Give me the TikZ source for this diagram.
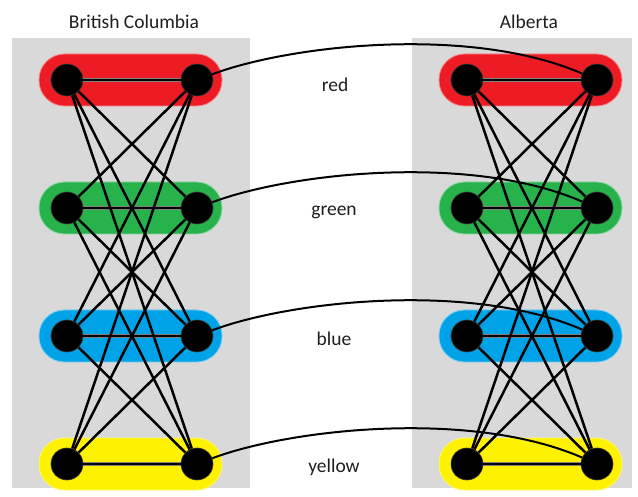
\documentclass[tikz,border=0pt]{standalone}
\usepackage{fontspec}
\setmainfont{Carlito}
\definecolor{panelgray}{RGB}{217,217,217}
\definecolor{pred}{RGB}{237,28,36}
\definecolor{pgreen}{RGB}{40,178,76}
\definecolor{pblue}{RGB}{0,162,232}
\definecolor{pyellow}{RGB}{255,242,0}
\definecolor{inkgray}{RGB}{30,30,30}
\begin{document}
\begin{tikzpicture}[x=1pt,y=-1pt,
  panel/.style={fill=panelgray,draw=none},
  pill/.style={rounded corners=25.5pt,line width=0.8pt},
  vtx/.style={circle,fill=black,draw=gray!45!black,line width=0.6pt,minimum size=32pt,inner sep=0pt},
  edge/.style={line width=2.5pt,black},
  halo/.style={line width=4.6pt,draw=gray},
  link/.style={line width=2pt,black},
  lab/.style={font=\fontsize{19.5}{22}\selectfont,text=inkgray,inner sep=0pt}]
  % canvas
  \useasboundingbox (0,0) rectangle (638,497);
  \fill[white] (0,0) rectangle (638,497);
  % grey panels for the two provinces
  \fill[panel] (12,38) rectangle (250,488);
  \fill[panel] (412,38) rectangle (632,488);
  % titles
  \node[lab] (tBC) at (134,22) {British Columbia};
  \node[lab] (tAB) at (529,22) {Alberta};
  % coloured pills, one per colour and province
  \foreach \dx in {0,400} {
    \foreach \y/\c in {80/pred,208/pgreen,336/pblue,464/pyellow} {
      \draw[pill,fill=\c,draw=\c!55!white] (39+\dx,\y-26) rectangle (222+\dx,\y+26);
    }
  }
  % vertices
  \foreach \p/\dx in {b/0,a/400} {
    \foreach \i/\y in {1/80,2/208,3/336,4/464} {
      \node[vtx] (\p L\i) at (67+\dx,\y) {};
      \node[vtx] (\p R\i) at (197+\dx,\y) {};
    }
  }
  % horizontal edges carry a grey rim
  \foreach \p in {b,a} {
    \foreach \i in {1,...,4} {
      \draw[halo] (\p L\i) -- (\p R\i);
    }
  }
  % complete bipartite edges between the two columns of each province
  \foreach \p in {b,a} {
    \foreach \i in {1,...,4} {
      \foreach \j in {1,...,4} {
        \draw[edge] (\p L\i) -- (\p R\j);
      }
    }
  }
  % links between matching colours of the two provinces
  \foreach \i/\y in {1/80,2/208,3/336,4/464} {
    \draw[link] (bR\i) .. controls (290,\y-35) and (470,\y-55) .. (aR\i);
  }
  % colour labels
  \node[lab] (cRed) at (335,85) {red};
  \node[lab] (cGreen) at (334,212) {green};
  \node[lab] (cBlue) at (334,339) {blue};
  \node[lab] (cYellow) at (334,467) {yellow};
\end{tikzpicture}
\end{document}
